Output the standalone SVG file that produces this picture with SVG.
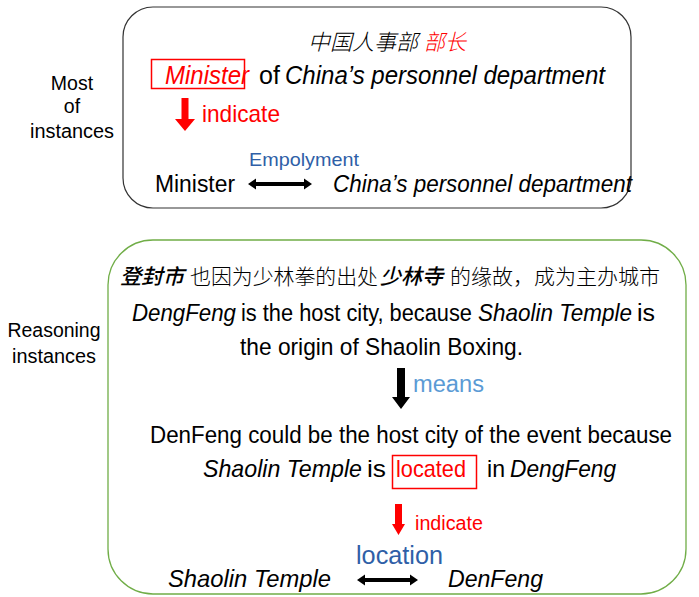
<svg xmlns="http://www.w3.org/2000/svg" width="699" height="597" viewBox="0 0 699 597">
<style>
text{font-family:"Liberation Sans",Arial,"Noto Sans CJK SC",sans-serif;fill:#000}
.cjk{font-family:"Noto Sans CJK SC","Liberation Sans",sans-serif;font-weight:300}
.cjkb{font-family:"Noto Sans CJK SC","Liberation Sans",sans-serif;font-weight:500;font-style:italic}
.it{font-style:italic}
.red{fill:#ff0000}
.blue{fill:#2f5fa7}
.lblue{fill:#5b9bd5}
.lab{font-size:19.5px;text-anchor:middle}
</style>
<rect width="699" height="597" fill="#fff"/>
<g id="labels">
<text class="lab" x="72" y="90">Most</text>
<text class="lab" x="72" y="113">of</text>
<text class="lab" x="72" y="138" textLength="84" lengthAdjust="spacingAndGlyphs">instances</text>
<text class="lab" x="54" y="337" textLength="93" lengthAdjust="spacingAndGlyphs">Reasoning</text>
<text class="lab" x="54" y="363" textLength="84" lengthAdjust="spacingAndGlyphs">instances</text>
</g>
<g id="box-most">
<rect x="123" y="7" width="508" height="201" rx="30" fill="none" stroke="#333" stroke-width="1.2"/>
<text class="cjk it" x="308" y="50" font-size="22" textLength="110" lengthAdjust="spacingAndGlyphs">中国人事部</text>
<text class="cjk it red" x="424" y="50" font-size="22" textLength="42" lengthAdjust="spacingAndGlyphs">部长</text>
<rect x="151.5" y="59.5" width="93" height="29" fill="none" stroke="#ff0000" stroke-width="1.5"/>
<text class="it red" x="165" y="84" font-size="25" textLength="84" lengthAdjust="spacingAndGlyphs">Minister</text>
<text x="259" y="84" font-size="25">of</text>
<text class="it" x="285" y="84" font-size="25" textLength="320" lengthAdjust="spacingAndGlyphs">China’s personnel department</text>
<polygon points="181.5,98 188.5,98 188.5,119 195,119 185,131 175,119 181.5,119" fill="#ff0000"/>
<text class="red" x="202" y="122" font-size="24" textLength="78" lengthAdjust="spacingAndGlyphs">indicate</text>
<text class="blue" x="249" y="166" font-size="19" textLength="110" lengthAdjust="spacingAndGlyphs">Empolyment</text>
<text x="155" y="192" font-size="23.5" textLength="80" lengthAdjust="spacingAndGlyphs">Minister</text>
<text class="it" x="333" y="192" font-size="23.5" textLength="299" lengthAdjust="spacingAndGlyphs">China’s personnel department</text>
</g>
<g id="box-reasoning">
<rect x="108" y="240" width="578" height="354" rx="45" fill="none" stroke="#70ad47" stroke-width="1.3"/>
<text class="cjkb" x="120" y="284" font-size="21" textLength="64" lengthAdjust="spacingAndGlyphs">登封市</text>
<text class="cjk" x="190" y="284" font-size="21" textLength="188" lengthAdjust="spacingAndGlyphs">也因为少林拳的出处</text>
<text class="cjkb" x="380" y="284" font-size="21" textLength="63" lengthAdjust="spacingAndGlyphs">少林寺</text>
<text class="cjk" x="450" y="284" font-size="21" textLength="210" lengthAdjust="spacingAndGlyphs">的缘故，成为主办城市</text>
<text class="it" transform="translate(132,321) scale(1,1.11)" x="0" y="0" font-size="22" textLength="104" lengthAdjust="spacingAndGlyphs">DengFeng</text>
<text transform="translate(241,321) scale(1,1.11)" x="0" y="0" font-size="22" textLength="231" lengthAdjust="spacingAndGlyphs">is the host city, because</text>
<text class="it" transform="translate(478,321) scale(1,1.11)" x="0" y="0" font-size="22" textLength="154" lengthAdjust="spacingAndGlyphs">Shaolin Temple</text>
<text transform="translate(637,321) scale(1,1.11)" x="0" y="0" font-size="22" textLength="18" lengthAdjust="spacingAndGlyphs">is</text>
<text x="240" y="355" font-size="24.5" textLength="283" lengthAdjust="spacingAndGlyphs">the origin of Shaolin Boxing.</text>
<polygon points="397,368 405,368 405,397 410,397 401,409 392,397 397,397" fill="#000"/>
<text class="lblue" x="413" y="392" font-size="23" textLength="71" lengthAdjust="spacingAndGlyphs">means</text>
<text x="150" y="443" font-size="23.5" textLength="522" lengthAdjust="spacingAndGlyphs">DenFeng could be the host city of the event because</text>
<text class="it" x="203" y="477" font-size="24" textLength="159" lengthAdjust="spacingAndGlyphs">Shaolin Temple</text>
<text x="367" y="477" font-size="24" textLength="19" lengthAdjust="spacingAndGlyphs">is</text>
<rect x="392.5" y="455.5" width="84" height="33" fill="none" stroke="#ff0000" stroke-width="1.5"/>
<text class="red" x="396" y="477" font-size="24" textLength="70" lengthAdjust="spacingAndGlyphs">located</text>
<text x="487" y="477" font-size="24" textLength="18" lengthAdjust="spacingAndGlyphs">in</text>
<text class="it" x="510" y="477" font-size="24" textLength="106" lengthAdjust="spacingAndGlyphs">DengFeng</text>
<polygon points="395,504 402,504 402,524 405,524 398.5,535 392,524 395,524" fill="#ff0000"/>
<text class="red" x="415" y="530" font-size="20" textLength="68" lengthAdjust="spacingAndGlyphs">indicate</text>
<text class="blue" x="356" y="564" font-size="26" textLength="87" lengthAdjust="spacingAndGlyphs">location</text>
<text class="it" x="168" y="587" font-size="24" textLength="163" lengthAdjust="spacingAndGlyphs">Shaolin Temple</text>
<text class="it" x="448" y="587" font-size="24" textLength="95" lengthAdjust="spacingAndGlyphs">DenFeng</text>
</g>
<g id="connectors">
<polygon points="248,184 256,178.5 256,182 304,182 304,178.5 312,184 304,189.5 304,186 256,186 256,189.5" fill="#000"/>
<polygon points="357,580 365,574.5 365,578 410,578 410,574.5 418,580 410,585.5 410,582 365,582 365,585.5" fill="#000"/>
</g>
</svg>
